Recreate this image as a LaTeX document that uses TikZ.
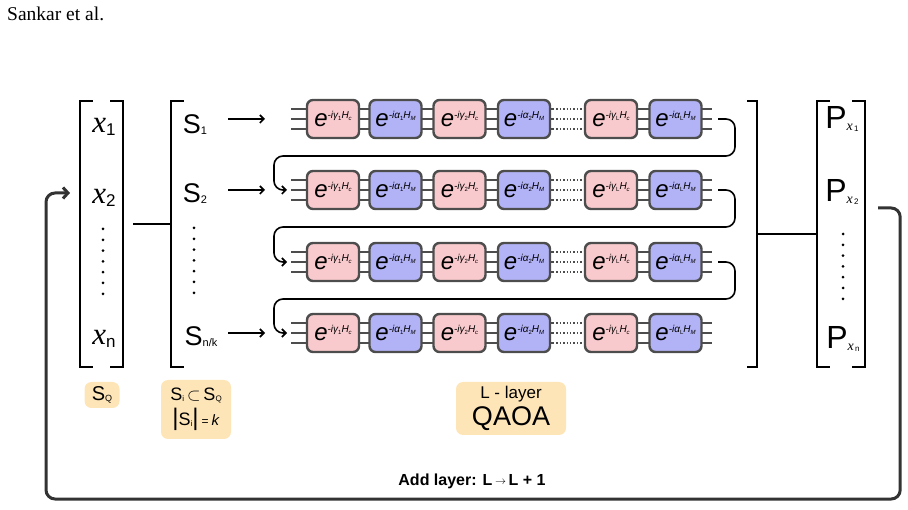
\documentclass[tikz,border=0pt]{standalone}
\usepackage{fontspec}
\setmainfont{Liberation Sans}
\newfontfamily\serifx{Liberation Serif}
\usetikzlibrary{arrows.meta}

\definecolor{gatepink}{RGB}{249,202,205}
\definecolor{gateblue}{RGB}{178,178,246}
\definecolor{tagfill}{RGB}{253,229,184}
\definecolor{edgegray}{RGB}{77,77,77}

% small raised/lowered text: size, shift, text
\newcommand{\smallsub}[3]{\raisebox{#2}{\fontsize{#1}{#1}\selectfont #3}}
\newcommand{\xsym}[1]{{\fontsize{31}{31}\selectfont\serifx\itshape x}\smallsub{17}{-3pt}{#1}}
\newcommand{\ssym}[1]{{\fontsize{27}{27}\selectfont S}\smallsub{11}{-1pt}{#1}}
\newcommand{\psym}[1]{{\fontsize{32}{32}\selectfont P}\smallsub{14}{-1.5pt}{\serifx\itshape x\smallsub{8}{-1pt}{\rmfamily\upshape\,#1}}}
\newcommand{\phasec}[1]{{\fontsize{24}{24}\selectfont\itshape e}\raisebox{8pt}{\fontsize{10}{10}\selectfont\itshape -iγ\smallsub{6}{-1.5pt}{\upshape #1}H\smallsub{6}{-1.5pt}{c}}}
\newcommand{\mixm}[1]{{\fontsize{24}{24}\selectfont\itshape e}\raisebox{8pt}{\fontsize{10}{10}\selectfont\itshape -iα\smallsub{6}{-1.5pt}{\upshape #1}H\smallsub{6}{-1.5pt}{M}}}

\begin{document}
\begin{tikzpicture}[x=1pt, y=-1pt,
  gatec/.style={draw=edgegray, line width=2.4pt, rounded corners=6pt, fill=gatepink,
    minimum width=52pt, minimum height=38pt, inner sep=0pt},
  gatem/.style={gatec, fill=gateblue},
  wire/.style={draw=edgegray, line width=1.4pt},
  vec/.style={inner sep=0pt, minimum height=266pt},
  bracket/.style={line width=2pt},
  link/.style={line width=1.6pt},
  vdots/.style={line width=3pt, line cap=round, dash pattern=on 0pt off 10.8pt},
  sarrow/.style={-{Straight Barb[length=4pt,width=8pt]}, line width=1.6pt},
  rowlink/.style={-{Straight Barb[length=4pt,width=8pt]}, line width=1.6pt, rounded corners=9pt},
  feedback/.style={-{Straight Barb[length=5pt,width=11pt]}, draw=black!80, line width=3pt, rounded corners=9pt},
  tag/.style={fill=tagfill, rounded corners=7pt, inner sep=0pt, align=center},
  vlab/.style={inner sep=0pt}
]
\useasboundingbox (0,0) rectangle (908,510);
\node[anchor=west, inner sep=0pt, font=\serifx\fontsize{19.5}{20}\selectfont] (hdr) at (7,14) {Sankar et al.};

% vectors
\node[vec, minimum width=43pt] (xvec) at (101.5,234) {};
\node[vec, minimum width=57pt] (svec) at (199.5,234) {};
\node[vec, minimum width=474pt] (qvec) at (520,234) {};
\node[vec, minimum width=48pt] (pvec) at (841,234) {};

\draw[bracket] ([xshift=13pt]xvec.north west) -- (xvec.north west) -- (xvec.south west) -- ([xshift=13pt]xvec.south west);
\draw[bracket] ([xshift=-13pt]xvec.north east) -- (xvec.north east) -- (xvec.south east) -- ([xshift=-13pt]xvec.south east);
\draw[bracket] ([xshift=13pt]svec.north west) -- (svec.north west) -- (svec.south west) -- ([xshift=13pt]svec.south west);
\draw[bracket] ([xshift=-10pt]qvec.north east) -- (qvec.north east) -- (qvec.south east) -- ([xshift=-10pt]qvec.south east);
\draw[bracket] ([xshift=13pt]pvec.north west) -- (pvec.north west) -- (pvec.south west) -- ([xshift=13pt]pvec.south west);
\draw[bracket] ([xshift=-13pt]pvec.north east) -- (pvec.north east) -- (pvec.south east) -- ([xshift=-13pt]pvec.south east);

\node[vlab] (x1) at (104,127) {\xsym{1}};
\node[vlab] (x2) at (104,198) {\xsym{2}};
\node[vlab] (xn) at (104,339) {\xsym{n}};
\draw[vdots] (103,229) -- (103,294);

\node[vlab] (s1) at (195,125) {\ssym{1}};
\node[vlab] (s2) at (195,194) {\ssym{2}};
\node[vlab] (snk) at (201,337) {\ssym{n/k}};
\draw[vdots] (194,228) -- (194,293);

\node[vlab] (p1) at (842,119) {\psym{1}};
\node[vlab] (p2) at (842,192) {\psym{2}};
\node[vlab] (pn) at (843,339) {\psym{n}};
\draw[vdots] (843,234) -- (843,299);

\draw[link] ([xshift=10pt,yshift=10pt]xvec.east) -- ([yshift=10pt]svec.west);
\draw[link] (qvec.east) -- (pvec.west);

% QAOA rows
\foreach \r/\y in {1/119,2/190,3/262,4/333}{
  \coordinate (in-\r) at (291,\y);
  \coordinate (out-\r) at (712,\y);
  \foreach \d in {-10,0,10}{
    \draw[wire] (291,\y+\d) -- (553,\y+\d);
    \draw[wire,dotted] (553,\y+\d) -- (586,\y+\d);
    \draw[wire] (586,\y+\d) -- (712,\y+\d);
  }
  \foreach \c/\gx/\kind/\lab in {1/333/gatec/\phasec{1},2/395.5/gatem/\mixm{1},
      3/459.5/gatec/\phasec{2},4/524/gatem/\mixm{2},5/611/gatec/\phasec{L},6/675.5/gatem/\mixm{L}}
    \node[\kind] (g\r-\c) at (\gx,\y) {\lab};
}

\foreach \r in {1,2,4}
  \draw[sarrow] (in-\r -| svec.east) -- ([xshift=-26pt]in-\r);
\foreach \r/\n in {1/2,2/3,3/4}
  \draw[rowlink] ([xshift=6pt]out-\r) -- ++(17,0) -- ++(0,37) -| ([xshift=-17pt]in-\n) -- ([xshift=-4pt]in-\n);

% feedback loop
\coordinate (fb-in) at (70,193);
\draw[feedback] ([xshift=13pt,yshift=26pt]pvec.east) -| ++(22,291) -| ([xshift=-24pt]fb-in) -- (fb-in);
\node[font=\bfseries\fontsize{16}{16}\selectfont] (addl) at (472,481) {Add layer: L\,\raisebox{1pt}{$\scriptstyle\rightarrow$}\,L + 1};

% labels
\node[tag, minimum width=35pt, minimum height=26pt] (sq) at (102,395) {{\fontsize{20}{20}\selectfont S}\smallsub{9}{-1pt}{Q}};
\node[tag, minimum width=70pt, minimum height=59pt] (subset) at (196,409.5)
  {{\fontsize{18}{18}\selectfont S\smallsub{8}{-1pt}{i}\,$\subset$\,S\smallsub{8}{-1pt}{Q}}\\[4pt]
   {\fontsize{18}{18}\selectfont{\fontsize{24}{24}\selectfont|}S\smallsub{8}{-1pt}{i}{\fontsize{24}{24}\selectfont|}\,{\fontsize{12}{12}\selectfont=}\,{\fontsize{15}{15}\selectfont\textit{k}}}};
\node[tag, minimum width=110pt, minimum height=53pt] (layer) at (511,408.5)
  {{\fontsize{17}{17}\selectfont L - layer}\\[4pt]{\fontsize{27}{27}\selectfont QAOA}};
\end{tikzpicture}
\end{document}
